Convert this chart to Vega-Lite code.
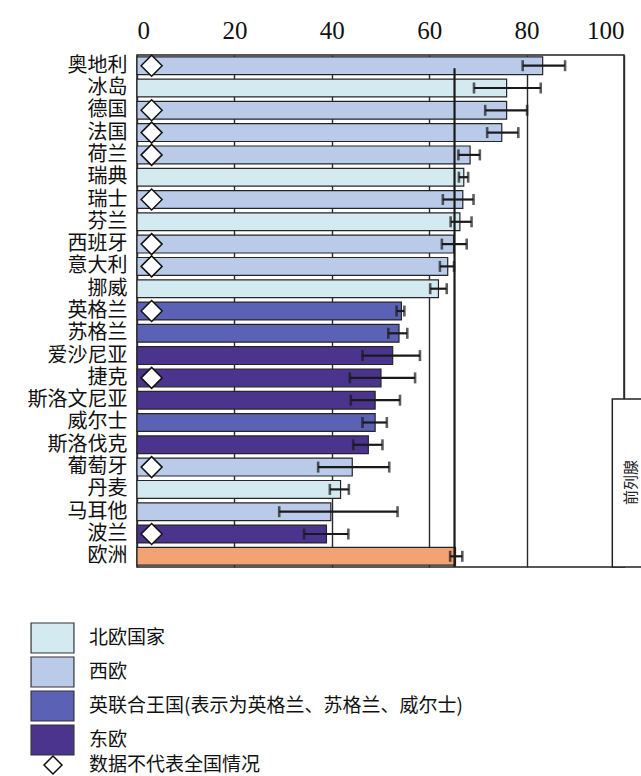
{
  "$schema": "https://vega.github.io/schema/vega-lite/v6.json",
  "width": 487,
  "height": 512,
  "autosize": "none",
  "padding": {"left": 137, "top": 55, "right": 17, "bottom": 209},
  "background": "white",
  "view": {"stroke": "#222222", "strokeWidth": 1.5},
  "config": {
    "font": "Noto Sans CJK SC",
    "axis": {"labelColor": "#111111"},
    "legend": {"labelColor": "#111111", "padding": 0}
  },
  "data": {
    "values": [
      {"country": "奥地利", "region": "西欧", "value": 83.3, "lo": 79.2, "hi": 87.9, "notNational": true},
      {"country": "冰岛", "region": "北欧国家", "value": 75.9, "lo": 69.2, "hi": 82.9, "notNational": false},
      {"country": "德国", "region": "西欧", "value": 75.9, "lo": 71.5, "hi": 80.1, "notNational": true},
      {"country": "法国", "region": "西欧", "value": 74.9, "lo": 71.9, "hi": 78.3, "notNational": true},
      {"country": "荷兰", "region": "西欧", "value": 68.4, "lo": 66.0, "hi": 70.4, "notNational": true},
      {"country": "瑞典", "region": "北欧国家", "value": 67.1, "lo": 66.1, "hi": 68.0, "notNational": false},
      {"country": "瑞士", "region": "西欧", "value": 66.9, "lo": 62.8, "hi": 69.1, "notNational": true},
      {"country": "芬兰", "region": "北欧国家", "value": 66.3, "lo": 64.4, "hi": 68.7, "notNational": false},
      {"country": "西班牙", "region": "西欧", "value": 65.0, "lo": 62.6, "hi": 67.7, "notNational": true},
      {"country": "意大利", "region": "西欧", "value": 63.8, "lo": 62.2, "hi": 65.1, "notNational": true},
      {"country": "挪威", "region": "北欧国家", "value": 61.9, "lo": 60.2, "hi": 63.6, "notNational": false},
      {"country": "英格兰", "region": "英联合王国(表示为英格兰、苏格兰、威尔士)", "value": 54.3, "lo": 53.3, "hi": 54.9, "notNational": true},
      {"country": "苏格兰", "region": "英联合王国(表示为英格兰、苏格兰、威尔士)", "value": 53.8, "lo": 51.6, "hi": 55.5, "notNational": false},
      {"country": "爱沙尼亚", "region": "东欧", "value": 52.5, "lo": 46.3, "hi": 58.1, "notNational": false},
      {"country": "捷克", "region": "东欧", "value": 50.1, "lo": 43.7, "hi": 57.1, "notNational": true},
      {"country": "斯洛文尼亚", "region": "东欧", "value": 48.9, "lo": 43.9, "hi": 54.0, "notNational": false},
      {"country": "威尔士", "region": "英联合王国(表示为英格兰、苏格兰、威尔士)", "value": 48.9, "lo": 46.3, "hi": 51.3, "notNational": false},
      {"country": "斯洛伐克", "region": "东欧", "value": 47.5, "lo": 44.4, "hi": 50.4, "notNational": false},
      {"country": "葡萄牙", "region": "西欧", "value": 44.2, "lo": 37.2, "hi": 51.8, "notNational": true},
      {"country": "丹麦", "region": "北欧国家", "value": 41.8, "lo": 39.6, "hi": 43.5, "notNational": false},
      {"country": "马耳他", "region": "西欧", "value": 39.8, "lo": 29.2, "hi": 53.5, "notNational": false},
      {"country": "波兰", "region": "东欧", "value": 38.9, "lo": 34.3, "hi": 43.4, "notNational": true},
      {"country": "欧洲", "region": "欧洲", "value": 65.4, "lo": 64.3, "hi": 66.8, "notNational": false}
    ]
  },
  "resolve": {"scale": {"y": "independent"}},
  "layer": [
    {
      "encoding": {
        "y": {
          "field": "country",
          "type": "nominal",
          "sort": null,
          "scale": {"paddingInner": 0.2, "paddingOuter": 0.08},
          "axis": {
            "title": null,
            "domain": false,
            "ticks": false,
            "labelFontSize": 20,
            "labelPadding": 10,
            "labelFont": "Noto Sans CJK SC"
          }
        }
      },
      "layer": [
        {
          "mark": {"type": "bar", "stroke": "#262626", "strokeWidth": 1.2},
          "encoding": {
            "x": {
              "field": "value",
              "type": "quantitative",
              "scale": {"domain": [0, 100], "nice": false},
              "axis": {
                "orient": "top",
                "title": null,
                "values": [0, 20, 40, 60, 80, 100],
                "labelFont": "Liberation Serif",
                "labelFontSize": 25,
                "labelPadding": 12,
                "ticks": false,
                "domain": false,
                "grid": true,
                "gridColor": "#2a2a2a",
                "gridWidth": 1.4,
                "gridOpacity": 1
              }
            },
            "color": {
              "field": "region",
              "type": "nominal",
              "scale": {
                "domain": ["北欧国家", "西欧", "英联合王国(表示为英格兰、苏格兰、威尔士)", "东欧", "欧洲"],
                "range": ["#d3eaf0", "#b9cbe9", "#5b62b5", "#4b348e", "#f2a374"]
              },
              "legend": {
                "title": null,
                "values": ["北欧国家", "西欧", "英联合王国(表示为英格兰、苏格兰、威尔士)", "东欧"],
                "orient": "none",
                "legendX": -100.5,
                "legendY": 567,
                "direction": "vertical",
                "symbolType": "M-1.43,-1H1.43V1H-1.43Z",
                "symbolSize": 900,
                "symbolStrokeColor": "#333333",
                "symbolStrokeWidth": 1.2,
                "symbolOpacity": 1,
                "labelFont": "Noto Sans CJK SC",
                "labelFontSize": 19,
                "labelOffset": 20.5,
                "labelLimit": 500,
                "rowPadding": -4
              }
            }
          }
        },
        {
          "transform": [{"filter": "datum.notNational"}],
          "mark": {"type": "point", "fill": "white", "stroke": "#111111", "strokeWidth": 1.5, "opacity": 1, "size": 440},
          "encoding": {
            "x": {"datum": 3, "type": "quantitative"},
            "shape": {
              "datum": "数据不代表全国情况",
              "scale": {"range": ["diamond"]},
              "legend": {
                "title": null,
                "orient": "none",
                "legendX": -94,
                "legendY": 700,
                "symbolSize": 324,
                "labelFont": "Noto Sans CJK SC",
                "labelFontSize": 19,
                "labelOffset": 26,
                "labelLimit": 500,
                "encode": {
                  "symbols": {
                    "update": {
                      "fill": {"value": "white"},
                      "stroke": {"value": "#111111"},
                      "strokeWidth": {"value": 1.5},
                      "opacity": {"value": 1}
                    }
                  }
                }
              }
            }
          }
        },
        {
          "mark": {"type": "rule", "color": "#1a1a1a", "strokeWidth": 2.2},
          "encoding": {
            "x": {"field": "lo", "type": "quantitative"},
            "x2": {"field": "hi"}
          }
        },
        {
          "mark": {"type": "tick", "color": "#1a1a1a", "thickness": 2.6, "size": 11, "orient": "vertical"},
          "encoding": {"x": {"field": "lo", "type": "quantitative"}}
        },
        {
          "mark": {"type": "tick", "color": "#1a1a1a", "thickness": 2.6, "size": 11, "orient": "vertical"},
          "encoding": {"x": {"field": "hi", "type": "quantitative"}}
        }
      ]
    },
    {
      "data": {"values": [{"label": "前列腺"}]},
      "layer": [
        {
          "mark": {"type": "rule", "color": "#1a1a1a", "strokeWidth": 2.2},
          "encoding": {
            "x": {"datum": 65.2, "type": "quantitative"},
            "y": {"datum": 0.6, "type": "quantitative", "scale": {"domain": [0, 23], "reverse": true, "nice": false, "zero": false}, "axis": null},
            "y2": {"datum": 23}
          }
        },
        {
          "mark": {"type": "rect", "fill": "white", "stroke": "#222222", "strokeWidth": 1.5},
          "encoding": {
            "x": {"datum": 97.6, "type": "quantitative"},
            "x2": {"datum": 112},
            "y": {"datum": 15.45, "type": "quantitative"},
            "y2": {"datum": 23}
          }
        },
        {
          "mark": {"type": "text", "angle": 270, "fontSize": 15, "font": "Noto Sans CJK SC", "color": "#222222", "align": "center", "baseline": "middle"},
          "encoding": {
            "x": {"datum": 101.5, "type": "quantitative"},
            "y": {"datum": 19.2, "type": "quantitative"},
            "text": {"field": "label"}
          }
        }
      ]
    }
  ]
}
